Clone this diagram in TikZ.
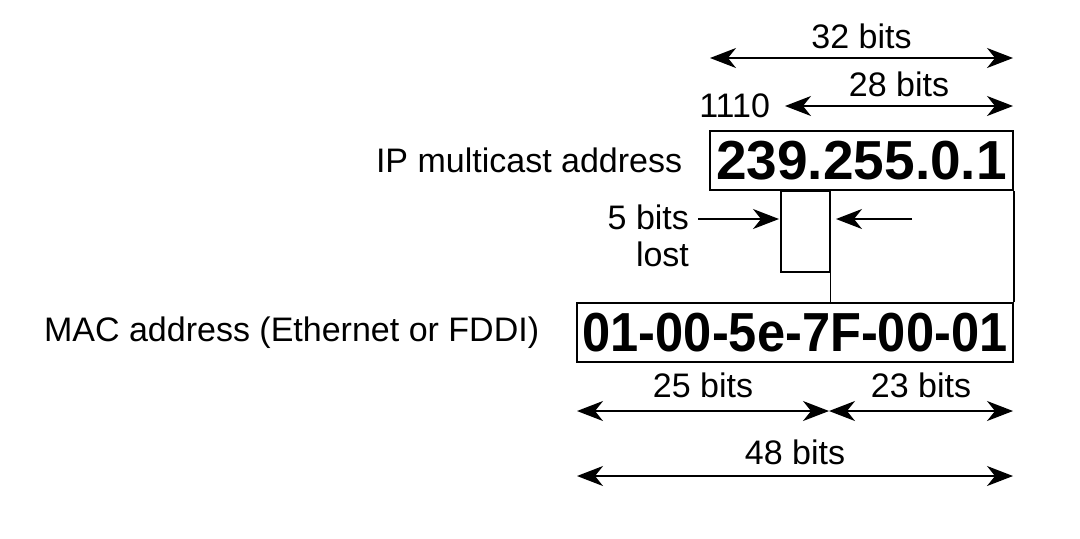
\documentclass[tikz,border=0pt]{standalone}
\usepackage{fontspec}
\setmainfont{Liberation Sans}
\usepackage{graphicx}
\usetikzlibrary{positioning,arrows.meta}

\begin{document}
\begin{tikzpicture}[
    x=0.5pt, y=-0.5pt,
    node distance=10pt,
    lbl/.style={font=\fontsize{17}{18.5}\selectfont},
    addr/.style={draw, line width=0.8pt, minimum height=29.5pt, inner sep=0pt, font=\fontsize{27.5}{30}\selectfont\bfseries},
    field/.style={draw, line width=0.8pt, inner sep=0pt},
    dim/.style={line width=0.8pt, {Stealth[length=13pt,width=10pt,inset=4pt]}-{Stealth[length=13pt,width=10pt,inset=4pt]}},
    push/.style={line width=0.8pt, -{Stealth[length=13pt,width=10pt,inset=4pt]}},
  ]
  \useasboundingbox (0,0) rectangle (1080,538);

  % the two addresses
  \node[addr, minimum width=151.5pt] (ip) at (861.5,160.5) {239.255.0.1};
  \node[addr, minimum width=218pt] (mac) at (795,332.5) {\scalebox{0.92}[1]{01-00-5e-7F-00-01}};
  \node[lbl, left=of ip] (iplbl) {IP multicast address};
  \node[lbl, left=15pt of mac] (maclbl) {MAC address (Ethernet or FDDI)};

  % bits that are dropped / kept
  \node[field, minimum width=24.5pt, minimum height=40.5pt, anchor=north west] (lostbox) at (780,190) {};
  \draw[line width=0.8pt] (lostbox.north east) -- (lostbox.north east |- mac.north);
  \draw[line width=0.8pt] (ip.south east) -- (mac.north east);

  \node[lbl, align=right, anchor=north east] (lost) at (696,198) {5 bits\\lost};
  \coordinate (l5a) at (698,219);
  \coordinate (l5b) at (779,219);
  \coordinate (r5a) at (912,219);
  \coordinate (r5b) at (836,219);
  \draw[push] (l5a) -- (l5b);
  \draw[push] (r5a) -- (r5b);

  % widths above the IP address
  \coordinate (t32a) at (710,58);
  \coordinate (t32b) at (1013,58);
  \coordinate (t28a) at (785,106);
  \coordinate (t28b) at (1013,106);
  \draw[dim] (t32a) -- node[lbl, above=1pt] (l32) {32 bits} (t32b);
  \draw[dim] (t28a) -- node[lbl, above=1pt] (l28) {28 bits} (t28b);
  \node[lbl, left=4pt of t28a] (n1110) {1110};

  % widths below the MAC address
  \coordinate (b25a) at (577,411);
  \coordinate (b25b) at (829,411);
  \coordinate (b23b) at (1013,411);
  \coordinate (b48a) at (577,476);
  \coordinate (b48b) at (1013,476);
  \draw[dim] (b25a) -- node[lbl, above=3pt] (l25) {25 bits} (b25b);
  \draw[dim] (b25b) -- node[lbl, above=3pt] (l23) {23 bits} (b23b);
  \draw[dim] (b48a) -- node[lbl, above=2pt] (l48) {48 bits} (b48b);
\end{tikzpicture}
\end{document}
